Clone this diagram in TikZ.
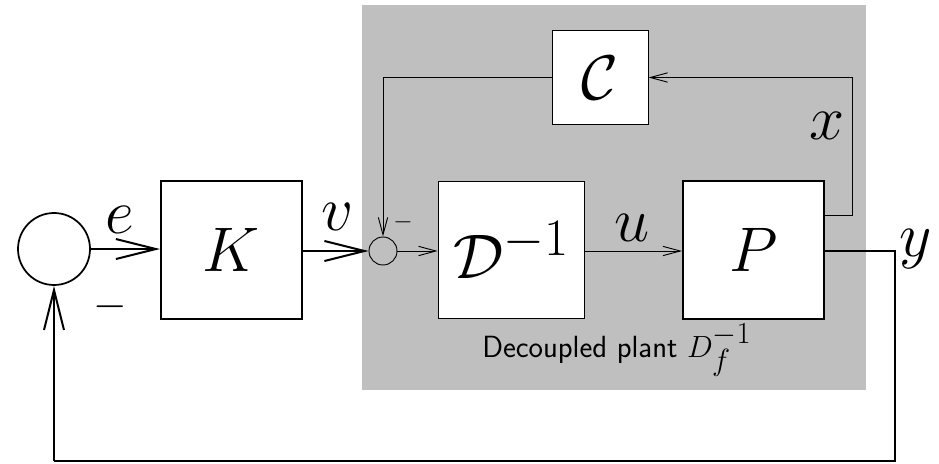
\documentclass[tikz,border=0pt]{standalone}
\usepackage{graphicx}
\usetikzlibrary{arrows.meta}
\newcommand{\bigmath}[1]{\scalebox{1.9}{\Huge$#1$}}
\begin{document}
\begin{tikzpicture}[x=0.75pt,y=-0.75pt,
  thickline/.style={line width=1.5pt},
  thinline/.style={line width=0.7pt},
  bigarrow/.style={-{Straight Barb[length=30pt,width=15pt,line width=1.5pt]}},
  smallarrow/.style={-{Straight Barb[length=13pt,width=7pt,line width=0.7pt]}},
  thickbox/.style={draw,fill=white,line width=1.5pt,inner sep=0pt},
  thinbox/.style={draw,fill=white,line width=0.7pt,inner sep=0pt},
  lbl/.style={inner sep=0pt}]
\useasboundingbox (0,0) rectangle (939,464);
\fill[white] (0,0) rectangle (939,464);
% shaded plant region
\fill[black!25] (362,5) rectangle (866,390);
% blocks
\node[draw,circle,line width=1.3pt,minimum size=54pt,inner sep=0pt] (s1) at (54,249) {};
\node[thickbox,minimum width=105.75pt,minimum height=104pt] (K) at (231.5,250) {\bigmath{K}};
\node[draw,circle,thinline,minimum size=21pt,inner sep=0pt,fill=black!25] (s2) at (383,251) {};
\node[thinbox,minimum width=110pt,minimum height=103pt] (D) at (511.5,250) {\bigmath{\mathcal{D}^{-1}}};
\node[thickbox,minimum width=105.75pt,minimum height=103pt] (P) at (753.5,250) {\bigmath{P}};
\node[thinbox,minimum width=72pt,minimum height=71pt] (C) at (600,77.5) {\bigmath{\mathcal{C}}};
% coordinates
\coordinate (xo) at (824,215);
\coordinate (xc) at (852,215);
\coordinate (yo) at (895,251);
\coordinate (yb) at (895,461);
\coordinate (lb) at (54,461);
% connectors
\draw[thickline,bigarrow] (s1.east) -- (K.west |- s1.east);
\draw[thickline,bigarrow] (K.east |- s2.west) -- (s2.west);
\draw[thinline,smallarrow] (s2.east) -- (D.west |- s2.east);
\draw[thinline,smallarrow] (D.east |- 0,251) -- (P.west |- 0,251);
\draw[thinline,smallarrow] (xo) -- (xc) |- (C.east);
\draw[thinline,smallarrow] (C.west) -| (s2.north);
\draw[thickline] (P.east |- yo) -- (yo) -- (yb) -- (lb);
\draw[thickline,bigarrow] (lb) -- (s1.south);
% labels
\node[lbl] (le) at (120,220) {\bigmath{e}};
\node[lbl] (lv) at (338,217) {\bigmath{v}};
\node[lbl] (lu) at (632,228) {\bigmath{u}};
\node[lbl] (lx) at (827,126) {\bigmath{x}};
\node[lbl] (ly) at (916,249) {\bigmath{y}};
\node[lbl] (lm1) at (110,307) {\scalebox{1.3}{\Huge$-$}};
\node[lbl] (lm2) at (403,222) {\scalebox{0.75}{\Huge$-$}};
\node[inner sep=0pt,anchor=base west] (dp) at (482,357) {\scalebox{1.33}{\LARGE\sffamily Decoupled plant $D_{\textstyle f}^{\textstyle -1}$}};
\end{tikzpicture}
\end{document}
